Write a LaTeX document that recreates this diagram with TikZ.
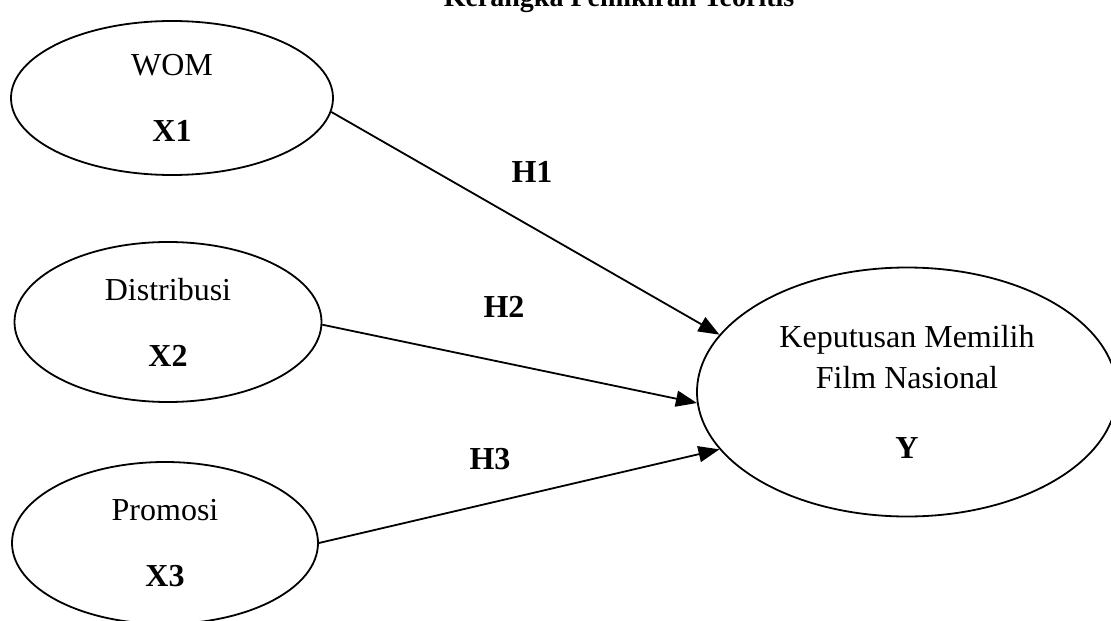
\documentclass[tikz,border=0pt]{standalone}
\usepackage{fontspec}
\setmainfont{Liberation Serif}
\usetikzlibrary{shapes.geometric,arrows.meta}
\tikzset{
	variabel/.style={draw, ellipse, line width=0.9pt, inner sep=0pt, align=center, font=\fontsize{16}{19}\selectfont},
	hubungan/.style={line width=0.9pt, -{Triangle[length=10.5pt,width=8pt]}},
	hipotesis/.style={font=\fontsize{16}{19}\selectfont\bfseries}
}

\begin{document}
\begin{tikzpicture}[x=0.5pt, y=-0.5pt]
	\useasboundingbox (0,0) rectangle (1111,620);
	\node[hipotesis, font=\fontsize{14}{17}\selectfont\bfseries, anchor=base] (judul) at (619,7) {Kerangka Pemikiran Teoritis};

	\node[variabel, minimum width=161pt, minimum height=77pt] (wom) at (172,98) {WOM\\[14pt]\textbf{X1}};
	\node[variabel, minimum width=153.5pt, minimum height=80pt] (dist) at (168,322) {Distribusi\\[14pt]\textbf{X2}};
	\node[variabel, minimum width=153pt, minimum height=81pt] (promo) at (165,543) {Promosi\\[14pt]\textbf{X3}};
	\node[variabel, minimum width=210pt, minimum height=124.5pt] (kfn) at (907,392) {Keputusan Memilih\\[1.5pt]Film Nasional\\[16pt]\textbf{Y}};

	\draw[hubungan] (wom.-5) -- (kfn.163.8);
	\draw[hubungan] (dist.-1.9) -- (kfn.-177.8);
	\draw[hubungan] (promo.east) -- (kfn.-163.8);

	\node[hipotesis] (h1) at (532,172) {H1};
	\node[hipotesis] (h2) at (504,307) {H2};
	\node[hipotesis] (h3) at (490,459) {H3};
\end{tikzpicture}
\end{document}
